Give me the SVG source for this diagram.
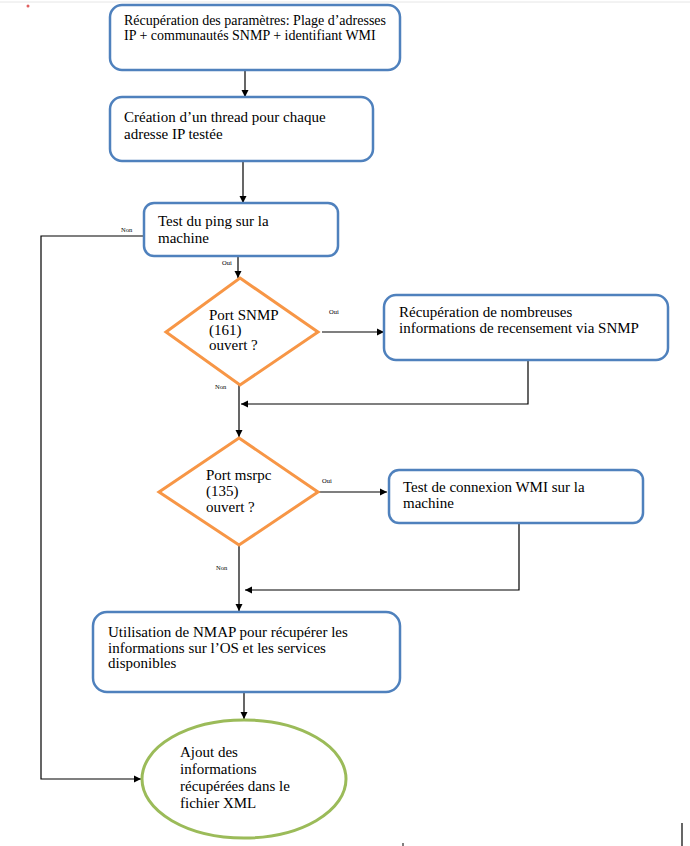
<svg xmlns="http://www.w3.org/2000/svg" width="690" height="846" viewBox="0 0 690 846">
<style>
.box{fill:#fff;stroke:#4f81bd;stroke-width:2.5}
.dia{fill:#fff;stroke:#f79646;stroke-width:3}
.ell{fill:#fff;stroke:#9bbb59;stroke-width:3}
.t{font-family:"Liberation Serif",serif;font-size:15px;fill:#000}
.t1{font-family:"Liberation Serif",serif;font-size:14px;fill:#000}
.s{font-family:"Liberation Serif",serif;font-size:6.5px;fill:#000}
.c{fill:none;stroke:#000;stroke-width:1.2}
</style>
<defs>
<marker id="ah" viewBox="0 0 10 10" refX="10" refY="5" markerWidth="7" markerHeight="8" markerUnits="userSpaceOnUse" orient="auto">
<path d="M0,0 L10,5 L0,10 z" fill="#000"/>
</marker>
</defs>
<rect width="690" height="846" fill="#fff"/>
<line x1="0" y1="2" x2="690" y2="2" stroke="#e6e6e6" stroke-width="1"/>
<circle cx="28" cy="6" r="1.5" fill="#e06060"/>
<g id="connectors">
<line class="c" x1="245" y1="70" x2="245" y2="97" marker-end="url(#ah)"/>
<line class="c" x1="243" y1="161" x2="243" y2="203" marker-end="url(#ah)"/>
<polyline class="c" points="144,236 41,236 41,779 141,779" marker-end="url(#ah)"/>
<line class="c" x1="238" y1="256" x2="238" y2="278" marker-end="url(#ah)"/>
<line class="c" x1="322" y1="332" x2="384" y2="332" marker-end="url(#ah)"/>
<line class="c" x1="239" y1="385" x2="239" y2="437" marker-end="url(#ah)"/>
<polyline class="c" points="528,360 528,404 241,404" marker-end="url(#ah)"/>
<line class="c" x1="319" y1="492" x2="387" y2="492" marker-end="url(#ah)"/>
<line class="c" x1="239" y1="545" x2="239" y2="611" marker-end="url(#ah)"/>
<polyline class="c" points="519,523 519,590 245,590" marker-end="url(#ah)"/>
<line class="c" x1="244" y1="692" x2="244" y2="719" marker-end="url(#ah)"/>
<text class="s" x="121" y="232">Non</text>
<text class="s" x="222" y="265">Oui</text>
<text class="s" x="329" y="314">Oui</text>
<text class="s" x="215" y="389">Non</text>
<text class="s" x="322" y="483">Oui</text>
<text class="s" x="216" y="570">Non</text>
</g>
<g id="n1">
<rect class="box" x="110" y="5" width="290" height="65" rx="12"/>
<text class="t1" x="124" y="25">Récupération des paramètres: Plage d’adresses</text>
<text class="t1" x="124" y="40">IP + communautés SNMP + identifiant WMI</text>
</g>
<g id="n2">
<rect class="box" x="110" y="97" width="263" height="64" rx="12"/>
<text class="t" x="124" y="122">Création d’un thread pour chaque</text>
<text class="t" x="124" y="139">adresse IP testée</text>
</g>
<g id="n3">
<rect class="box" x="144" y="203" width="194" height="53" rx="10"/>
<text class="t" x="158" y="226">Test du ping sur la</text>
<text class="t" x="158" y="243">machine</text>
</g>
<g id="n4">
<polygon class="dia" points="240,278 318,332 240,385 166,332"/>
<text class="t" x="209" y="320">Port SNMP</text>
<text class="t" x="209" y="335">(161)</text>
<text class="t" x="209" y="350">ouvert ?</text>
</g>
<g id="n5">
<rect class="box" x="384" y="295" width="284" height="65" rx="12"/>
<text class="t" x="399" y="317">Récupération de nombreuses</text>
<text class="t" x="399" y="333">informations de recensement via SNMP</text>
</g>
<g id="n6">
<polygon class="dia" points="239,438 318,492 239,545 159,492"/>
<text class="t" x="206" y="480">Port msrpc</text>
<text class="t" x="206" y="496">(135)</text>
<text class="t" x="206" y="512">ouvert ?</text>
</g>
<g id="n7">
<rect class="box" x="389" y="470" width="254" height="53" rx="10"/>
<text class="t" x="403" y="492">Test de connexion WMI sur la</text>
<text class="t" x="403" y="508">machine</text>
</g>
<g id="n8">
<rect class="box" x="93" y="612" width="307" height="80" rx="14"/>
<text class="t" x="108" y="637">Utilisation de NMAP pour récupérer les</text>
<text class="t" x="108" y="653">informations sur l’OS et les services</text>
<text class="t" x="108" y="668">disponibles</text>
</g>
<g id="n9">
<ellipse class="ell" cx="244" cy="779" rx="102" ry="59"/>
<text class="t" x="180" y="757">Ajout des</text>
<text class="t" x="180" y="774">informations</text>
<text class="t" x="180" y="791">récupérées dans le</text>
<text class="t" x="180" y="808">fichier XML</text>
</g>
<line x1="682" y1="823" x2="682" y2="846" stroke="#000" stroke-width="1.2"/>
<line x1="403" y1="843" x2="403" y2="846" stroke="#000" stroke-width="1"/>
</svg>
